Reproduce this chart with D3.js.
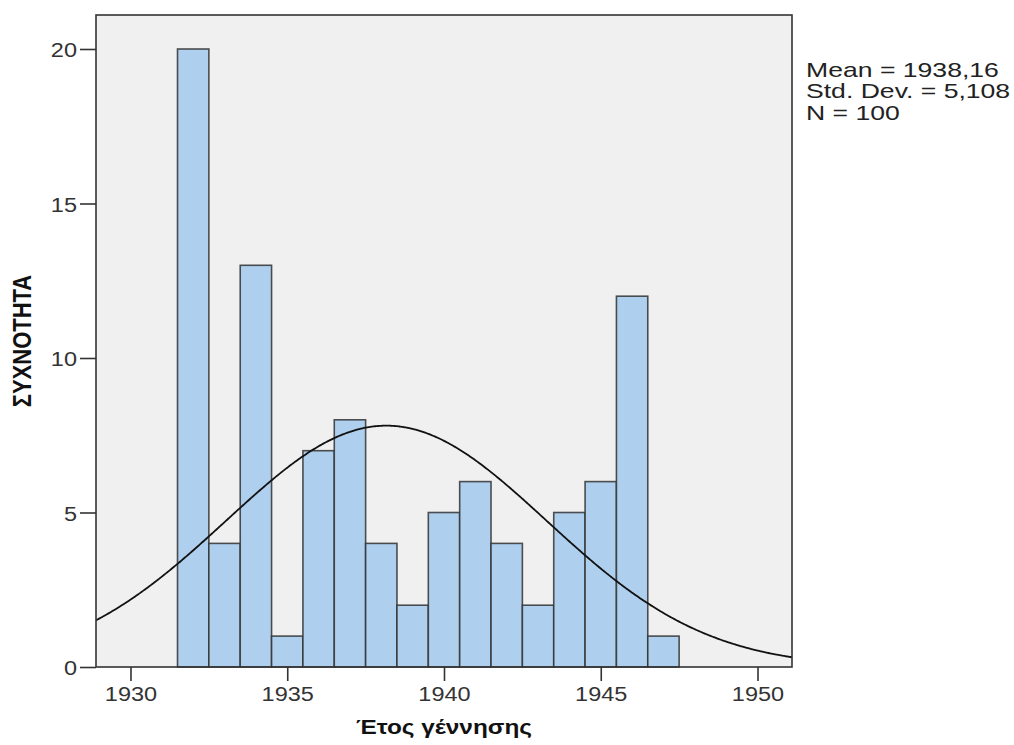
<!DOCTYPE html>
<html>
<head>
<meta charset="utf-8">
<script src="https://cdn.jsdelivr.net/npm/d3@7"></script>
<style>
  body { margin: 0; background: #fff; }
  svg text { font-family: "Liberation Sans", Arial, sans-serif; }
</style>
</head>
<body>
<svg id="drawing_region"></svg>
<script>
// histogram bins (bin centre = year) and counts
var years  = [1932, 1933, 1934, 1935, 1936, 1937, 1938, 1939, 1940, 1941, 1942, 1943, 1944, 1945, 1946, 1947];
var counts = [20, 4, 13, 1, 7, 8, 4, 2, 5, 6, 4, 2, 5, 6, 12, 1];
var xticks = [1930, 1935, 1940, 1945, 1950];
var yticks = [0, 5, 10, 15, 20];
var stats  = ["Mean = 1938,16", "Std. Dev. = 5,108", "N = 100"];
var mean = 1938.16, sd = 5.108, n = 100, binw = 1;

var config = {
    width: 1014,
    height: 745,
    margin: {top: 15, right: 222, bottom: 78, left: 96}
};

var svg = d3.select('#drawing_region')
    .attr('width', config.width)
    .attr('height', config.height);

var inner_width = config.width - config.margin.left - config.margin.right;
var inner_height = config.height - config.margin.top - config.margin.bottom;

var chart = svg.append('g')
    .attr('transform', `translate(${config.margin.left}, ${config.margin.top})`);

var xscale = d3.scaleLinear()
    .domain([1928.9, 1951.1])
    .range([0, inner_width]);

var yscale = d3.scaleLinear()
    .domain([0, 21.1])
    .range([inner_height, 0]);

// plot background
chart.append('rect')
    .attr('width', inner_width)
    .attr('height', inner_height)
    .attr('fill', '#f0f0f0');

chart.append('clipPath')
    .attr('id', 'clip')
    .append('rect')
    .attr('width', inner_width)
    .attr('height', inner_height);

// bars
chart.selectAll('rect.bar')
    .data(years.map((y, i) => ({year: y, count: counts[i]})))
    .join('rect')
    .attr('class', 'bar')
    .attr('x', d => xscale(d.year - binw / 2))
    .attr('y', d => yscale(d.count))
    .attr('width', d => xscale(d.year + binw / 2) - xscale(d.year - binw / 2))
    .attr('height', d => yscale(0) - yscale(d.count))
    .attr('fill', '#aecfee')
    .attr('stroke', '#333')
    .attr('stroke-opacity', 0.85)
    .attr('stroke-width', 1.6);

// normal curve from mean / sd
var curve = d3.range(1928.9, 1951.15, 0.05).map(x => ({
    x: x,
    y: n * binw / (sd * Math.sqrt(2 * Math.PI)) * Math.exp(-Math.pow(x - mean, 2) / (2 * sd * sd))
}));

chart.append('path')
    .datum(curve)
    .attr('clip-path', 'url(#clip)')
    .attr('fill', 'none')
    .attr('stroke', '#111')
    .attr('stroke-width', 1.8)
    .attr('d', d3.line().x(d => xscale(d.x)).y(d => yscale(d.y)).curve(d3.curveBasis));

// frame
chart.append('rect')
    .attr('width', inner_width)
    .attr('height', inner_height)
    .attr('fill', 'none')
    .attr('stroke', '#333')
    .attr('stroke-width', 1.6);

// axes
var xaxis = d3.axisBottom(xscale)
    .tickValues(xticks)
    .tickFormat(d3.format('d'))
    .tickSize(14)
    .tickPadding(5);

var yaxis = d3.axisLeft(yscale)
    .tickValues(yticks)
    .tickSize(16)
    .tickPadding(3);

var xaxis_group = chart.append('g')
    .attr('transform', `translate(0, ${inner_height})`)
    .call(xaxis);

var yaxis_group = chart.append('g')
    .call(yaxis);

[xaxis_group, yaxis_group].forEach(g => {
    g.select('.domain').remove();
    g.selectAll('.tick line').attr('stroke', '#333').attr('stroke-width', 1.6);
    g.selectAll('.tick text')
        .attr('font-size', '21px')
        .attr('fill', '#333')
        .style('font-family', '"Liberation Sans", Arial, sans-serif');
});

xaxis_group.selectAll('.tick text')
    .style('transform-box', 'fill-box')
    .style('transform-origin', 'center')
    .style('transform', 'scaleX(1.12)');

yaxis_group.selectAll('.tick text')
    .attr('dy', '0.36em')
    .style('transform-box', 'fill-box')
    .style('transform-origin', 'right center')
    .style('transform', 'scaleX(1.12)');

// axis titles
svg.append('text')
    .attr('transform', `translate(444, 734) scale(1.25, 1)`)
    .attr('text-anchor', 'middle')
    .attr('font-size', '19.5px')
    .attr('font-weight', 'bold')
    .attr('fill', '#111')
    .text('Έτος γέννησης');

svg.append('text')
    .attr('transform', `translate(31, 341) scale(1.2, 1) rotate(-90)`)
    .attr('text-anchor', 'middle')
    .attr('font-size', '22px')
    .attr('font-weight', 'bold')
    .attr('fill', '#111')
    .text('ΣΥΧΝΟΤΗΤΑ');

// statistics
var legend = svg.append('g')
    .attr('transform', `translate(806, 77) scale(1.33, 1)`);

legend.selectAll('text')
    .data(stats)
    .join('text')
    .attr('x', 0)
    .attr('y', (d, i) => i * 21.5)
    .attr('font-size', '20px')
    .attr('fill', '#222')
    .text(d => d);
</script>
</body>
</html>
